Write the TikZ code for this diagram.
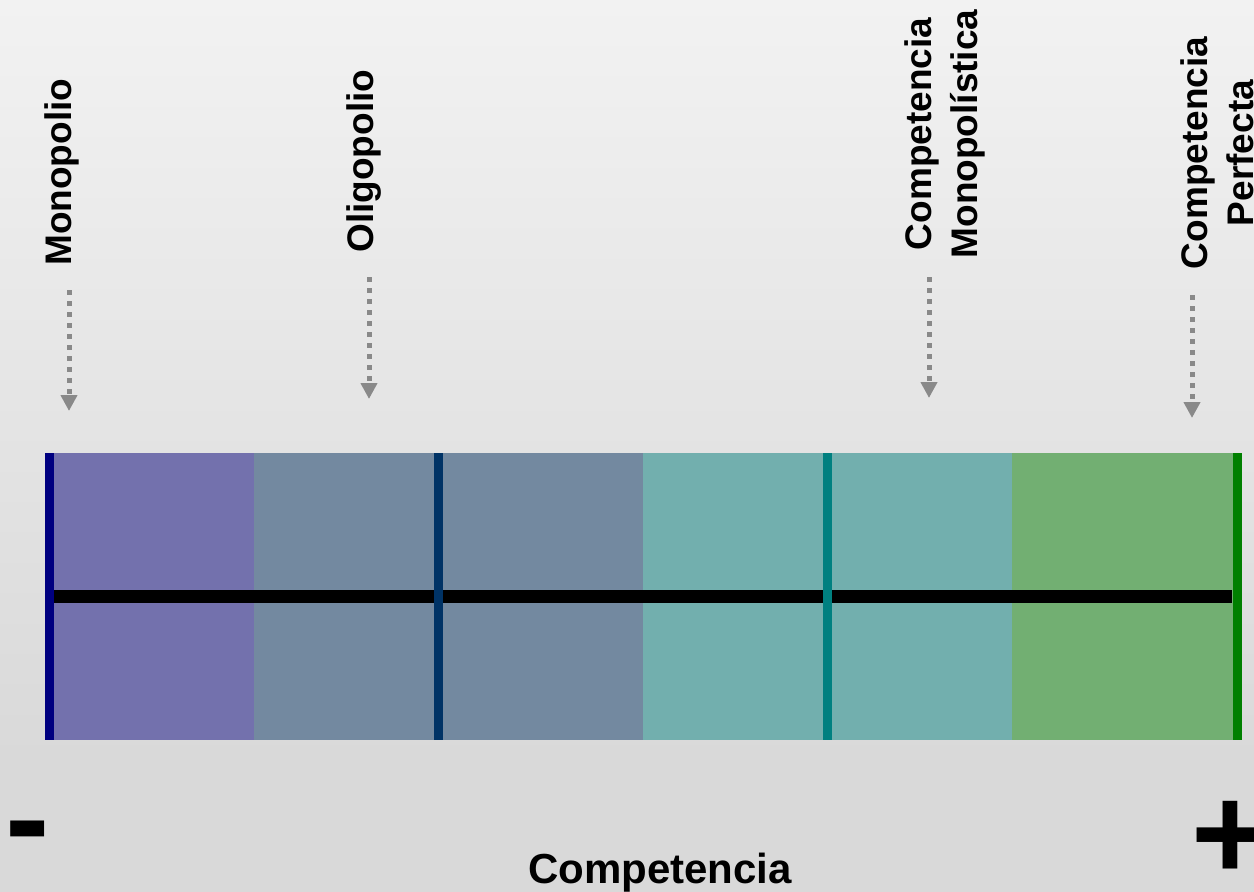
\documentclass[tikz,border=0pt]{standalone}
\usepackage{fontspec}
\setmainfont{Liberation Sans}
\usetikzlibrary{arrows.meta}
\definecolor{bgtop}{HTML}{F2F2F2}
\definecolor{bgbot}{HTML}{D9D9D9}
\definecolor{zpurple}{HTML}{7371AD}
\definecolor{zslate}{HTML}{7389A0}
\definecolor{zteal}{HTML}{72AFAE}
\definecolor{zgreen}{HTML}{72AF72}
\definecolor{lnavy}{HTML}{000080}
\definecolor{ldblue}{HTML}{003366}
\definecolor{lteal}{HTML}{008080}
\definecolor{lgreen}{HTML}{008000}
\definecolor{arrgray}{HTML}{898989}
\tikzset{
  lbl/.style={font=\fontsize{27.75pt}{34.5pt}\selectfont\bfseries, rotate=90, inner sep=0pt, align=center},
  dotarrow/.style={draw=arrgray, line width=3.75pt, dash pattern=on 3.75pt off 4.5pt,
    -{Triangle[width=12pt,length=12pt,fill=arrgray]}},
  signtxt/.style={font=\fontsize{100pt}{100pt}\selectfont\bfseries, inner sep=0pt},
}
\begin{document}
\begin{tikzpicture}[x=0.75pt,y=-0.75pt]
\useasboundingbox (0,0) rectangle (1254,892);
% background
\shade[top color=bgtop, bottom color=bgbot, draw=none] (0,0) rectangle (1254,760);
\fill[bgbot] (0,759) rectangle (1254,892);
% zones
\fill[zpurple] (45,453) rectangle (254,740);
\fill[zslate] (254,453) rectangle (643,740);
\fill[zteal] (643,453) rectangle (1012,740);
\fill[zgreen] (1012,453) rectangle (1242,740);
% black axis
\fill[black] (54,590) rectangle (1232,603);
% ticks
\fill[lnavy] (45,453) rectangle (54,740);
\fill[ldblue] (434,453) rectangle (443,740);
\fill[lteal] (823,453) rectangle (832,740);
\fill[lgreen] (1233,453) rectangle (1242,740);
% labels
\node[lbl, anchor=base west] (mono) at (71,266) {Monopolio};
\node[lbl, anchor=base west] (oligo) at (373,253) {Oligopolio};
\node[lbl, anchor=center] (cmono) at (945,134) {Competencia\\Monopolística};
\node[lbl, anchor=center] (cperf) at (1217,153) {Competencia\\Perfecta};
% arrows
\coordinate (monoS) at (69,290);
\coordinate (monoE) at (69,411);
\coordinate (oligoS) at (369,277);
\coordinate (oligoE) at (369,399);
\coordinate (cmonoS) at (929,277);
\coordinate (cmonoE) at (929,398);
\coordinate (cperfS) at (1192,295);
\coordinate (cperfE) at (1192,418);
\draw[dotarrow] (monoS) -- (monoE);
\draw[dotarrow] (oligoS) -- (oligoE);
\draw[dotarrow] (cmonoS) -- (cmonoE);
\draw[dotarrow] (cperfS) -- (cperfE);
% signs and axis title
\node[signtxt, anchor=base west] (minus) at (5,863) {-};
\node[signtxt, anchor=base] (plus) at (1230,879) {+};
\node[font=\fontsize{31.5pt}{36pt}\selectfont\bfseries, inner sep=0pt, anchor=base] (comp) at (660,883) {Competencia};
\end{tikzpicture}
\end{document}
